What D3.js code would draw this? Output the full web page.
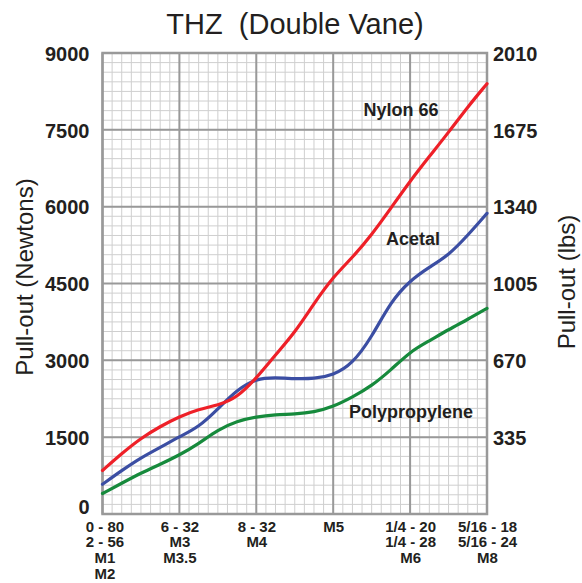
<!DOCTYPE html>
<html>
<head>
<meta charset="utf-8">
<script src="https://cdn.jsdelivr.net/npm/d3@7"></script>
<style>
body { margin: 0; background: #fff; }
svg text { font-family: "Liberation Sans", Arial, sans-serif; fill: #231f20; }
</style>
</head>
<body>
<div id="chart"></div>
<script>

// fastener sizes along the bottom (one label block per major column line)
let size_labels = [
  ["0 - 80", "2 - 56", "M1", "M2"],
  ["6 - 32", "M3", "M3.5"],
  ["8 - 32", "M4"],
  ["M5"],
  ["1/4 - 20", "1/4 - 28", "M6"],
  ["5/16 - 18", "5/16 - 24", "M8"]
]

// position along the size axis (0 = first size, 5 = last size) where the curves were read
let size_pos = [0, 0.25, 0.5, 0.75, 1, 1.25, 1.5, 1.75, 2, 2.25, 2.5, 2.75, 3, 3.25, 3.5, 3.75, 4, 4.25, 4.5, 4.75, 5]

// pull-out in Newtons
let nylon_66 = [850, 1180, 1480, 1710, 1900, 2050, 2120, 2270, 2650, 3110, 3540, 4110, 4630, 5005, 5450, 5970, 6500, 6980, 7450, 7950, 8400]
let acetal = [580, 850, 1100, 1300, 1510, 1695, 2050, 2430, 2645, 2665, 2640, 2640, 2710, 2930, 3450, 4150, 4560, 4820, 5050, 5440, 5870]
let polypropylene = [400, 600, 800, 970, 1150, 1370, 1645, 1815, 1900, 1940, 1950, 1985, 2094, 2280, 2500, 2810, 3170, 3380, 3600, 3800, 4015]

let newton_ticks = [0, 1500, 3000, 4500, 6000, 7500, 9000]
let lbs_ticks = [335, 670, 1005, 1340, 1675, 2010]

let title_text = "THZ  (Double Vane)"

let W = 582, H = 583
let p_left = 102.5, p_right = 487, p_top = 53, p_bottom = 514

let svg = d3.select("#chart").append("svg")
.attr("width", W)
.attr("height", H)

let x = d3.scaleLinear().domain([0, 5]).range([p_left, p_right])
let y = d3.scaleLinear().domain([0, 9000]).range([p_bottom, p_top])
let y_lbs = d3.scaleLinear().domain([0, 2010]).range([p_bottom, p_top])

// minor grid: 8 divisions per major cell
let minor_x = d3.range(0, 5.0001, 1/8)
let minor_y = d3.range(0, 9000.1, 1500/8)

let grid = svg.append("g")

grid.selectAll(".minx").data(minor_x).enter().append("line")
.attr("x1", d => x(d)).attr("x2", d => x(d))
.attr("y1", p_top).attr("y2", p_bottom)
.attr("stroke", "#cfcfcf").attr("stroke-width", 1)

grid.selectAll(".miny").data(minor_y).enter().append("line")
.attr("y1", d => y(d)).attr("y2", d => y(d))
.attr("x1", p_left).attr("x2", p_right)
.attr("stroke", "#cfcfcf").attr("stroke-width", 1)

grid.selectAll(".majx").data(d3.range(0, 6)).enter().append("line")
.attr("x1", d => x(d)).attr("x2", d => x(d))
.attr("y1", p_top).attr("y2", p_bottom)
.attr("stroke", "#999999").attr("stroke-width", 2)

grid.selectAll(".majy").data(newton_ticks).enter().append("line")
.attr("y1", d => y(d)).attr("y2", d => y(d))
.attr("x1", p_left).attr("x2", p_right)
.attr("stroke", "#999999").attr("stroke-width", 2)

grid.append("rect")
.attr("x", p_left).attr("y", p_top)
.attr("width", p_right - p_left).attr("height", p_bottom - p_top)
.attr("fill", "none").attr("stroke", "#999999").attr("stroke-width", 2.5)

// curves
let line = d3.line()
.x((d, i) => x(size_pos[i]))
.y(d => y(d))
.curve(d3.curveBasis)

let series = [
  {name: "Polypropylene", values: polypropylene, color: "#168a3c"},
  {name: "Acetal", values: acetal, color: "#3b4ea3"},
  {name: "Nylon 66", values: nylon_66, color: "#ee2028"}
]

svg.selectAll(".curve").data(series).enter().append("path")
.attr("d", d => line(d.values))
.attr("fill", "none")
.attr("stroke", d => d.color)
.attr("stroke-width", 3.2)
.attr("stroke-linecap", "round")

// curve labels
let lab = svg.append("g")
.style("font-size", "18px")
.style("font-weight", "bold")

lab.append("text").attr("x", 401).attr("y", 116).attr("text-anchor", "middle").text("Nylon 66")
lab.append("text").attr("x", 413).attr("y", 245).attr("text-anchor", "middle").text("Acetal")
lab.append("text").attr("x", 411).attr("y", 418).attr("text-anchor", "middle").text("Polypropylene")

// left axis
let axL = svg.append("g")
.attr("transform", `translate(${p_left - 13},0)`)
.call(d3.axisLeft(y).tickValues(newton_ticks).tickSize(0).tickFormat(d3.format("d")))

axL.select(".domain").remove()
axL.selectAll("text")
.attr("x", 0)
.style("font-family", "Liberation Sans, Arial, sans-serif")
.style("font-size", "20px")
.style("font-weight", "bold")
.style("fill", "#231f20")
.attr("dy", d => d == 0 ? "-0.05em" : "0.36em")

// right axis
let axR = svg.append("g")
.attr("transform", `translate(${p_right + 6},0)`)
.call(d3.axisRight(y_lbs).tickValues(lbs_ticks).tickSize(0).tickFormat(d3.format("d")))

axR.select(".domain").remove()
axR.selectAll("text")
.attr("x", 0)
.style("font-family", "Liberation Sans, Arial, sans-serif")
.style("font-size", "20px")
.style("font-weight", "bold")
.style("fill", "#231f20")
.attr("dy", "0.36em")

// bottom axis with multi-line size labels
let axB = svg.append("g")
.attr("transform", `translate(0,${p_bottom})`)
.call(d3.axisBottom(x).tickValues(d3.range(0, 6)).tickSize(0).tickFormat(""))

axB.select(".domain").remove()
axB.selectAll(".tick text")
.attr("y", 0)
.attr("dy", null)
.style("font-family", "Liberation Sans, Arial, sans-serif")
.style("font-size", "15px")
.style("font-weight", "bold")
.style("fill", "#231f20")
.each(function(d) {
  let t = d3.select(this)
  size_labels[d].forEach((s, k) => {
    t.append("tspan")
    .attr("x", d == 0 ? 2 : 0)
    .attr("y", 17.5 + k * 15.7)
    .text(s)
  })
})

// axis titles
svg.append("text")
.attr("transform", "translate(33,277) rotate(-90)")
.attr("text-anchor", "middle")
.style("font-size", "24px")
.text("Pull-out (Newtons)")

svg.append("text")
.attr("transform", "translate(575,282) rotate(-90)")
.attr("text-anchor", "middle")
.style("font-size", "24px")
.text("Pull-out (lbs)")

// title
svg.append("text")
.attr("x", 295)
.attr("y", 34)
.attr("text-anchor", "middle")
.style("font-size", "29px")
.style("white-space", "pre")
.text(title_text)

</script>
</body>
</html>
